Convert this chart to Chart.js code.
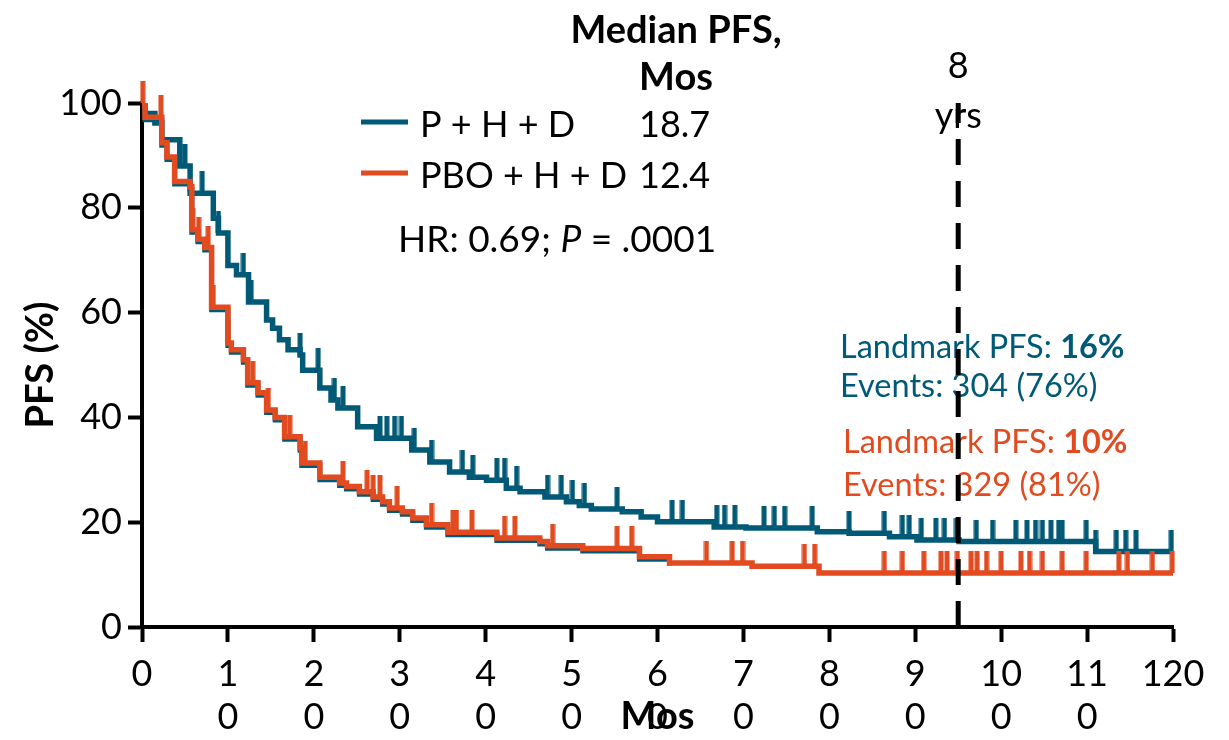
<!DOCTYPE html>
<html>
<head>
<meta charset="utf-8">
<script src="https://cdn.jsdelivr.net/npm/chart.js@4.4.1/dist/chart.umd.min.js"></script>
<style>
  html, body { margin: 0; padding: 0; background: #fff; }
  #wrap { width: 1229px; height: 740px; }
</style>
</head>
<body>
<div id="wrap"><canvas id="pfs" width="1229" height="740"></canvas></div>
<script>
// x axis labels as they appear (wrapped) in the source figure
const xTickLabels = ['0', ['1', '0'], ['2', '0'], ['3', '0'], ['4', '0'], ['5', '0'],
  ['6', '0'], ['7', '0'], ['8', '0'], ['9', '0'], ['10', '0'], ['11', '0'], '120'];

const armNames = ['P + H + D', 'PBO + H + D'];
const medianPfs = ['18.7', '12.4'];
const landmarkPfs = ['16%', '10%'];
const eventsText = ['Events: 304 (76%)', 'Events: 329 (81%)'];
const landmarkMonth = 95;

// P + H + D : step times (months) and PFS (%)
const phdTimes = [0, 0.35, 1.5, 2.3, 4.4, 5.6, 8.3, 8.9, 10, 11, 12.4, 14.5, 15.2, 16, 17, 18.4, 18.7,
  20.7, 22, 22.8, 25.1, 27.3, 31.4, 33.5, 35.8, 38.1, 40.1, 42.4, 44, 46.9, 49.4, 50.9, 52.3,
  55.9, 58.1, 60, 66.6, 70.3, 78.6, 82.3, 87, 90.2, 95.1, 111, 120];
const phdSurv = [100, 98, 96.2, 93, 88, 82.8, 78, 75.2, 69, 67.2, 62, 58.6, 57, 54.8, 52.9, 51.9, 49,
  45.6, 43.3, 41.8, 38.2, 36, 33.8, 31.5, 29.6, 28.6, 28, 26.5, 25.8, 24.8, 23.9, 23.2, 22.5,
  22, 21, 20.1, 19.1, 18.9, 18.2, 17.9, 17.2, 16.6, 16.3, 14.4, 14.4];
const phdCensor = [4.4, 5.0, 7.0, 8.9, 11.8, 12.7, 18.4, 20.5, 22.4, 23.4, 27.7, 28.5, 29.4, 30.2,
  31.7, 33.7, 37.3, 38.5, 41.3, 42.2, 43.6, 47.2, 48.8, 50.1, 51.5, 55.3, 61.7, 62.9, 66.9, 67.8,
  69, 72.4, 73.6, 74.8, 78, 82.3, 86.4, 88.5, 89.3, 90.7, 92.4, 93.4, 94.8, 97.1, 99, 101.7, 103,
  104, 104.8, 105.8, 106.7, 107.1, 109.9, 111, 113.4, 114.5, 115.7, 119.8];

// PBO + H + D
const pboTimes = [0, 0.35, 2.3, 2.9, 3.8, 5.6, 5.8, 6.5, 7.3, 8.1, 10, 10.4, 11.8, 12.3, 13.5, 14.5,
  15.5, 16.6, 18.4, 18.6, 20.7, 23, 23.8, 25.3, 26.9, 28, 28.8, 30.3, 31.5, 33.1, 35.6, 41.3,
  46.3, 47.2, 51.3, 57.9, 61.4, 71, 78.8, 120];
const pboSurv = [100, 97.3, 92.4, 89.7, 85, 84, 75.8, 74, 72.4, 61, 54.2, 52.9, 51, 46.6, 44.7, 41.4,
  40, 36.3, 34.2, 31.3, 28.6, 27.5, 26.8, 25.8, 24.8, 23.9, 22.7, 22, 20.8, 19.5, 18.1, 17,
  16.3, 15.5, 15, 13.4, 12.2, 11.6, 10.3, 10.3];
const pboCensor = [0.1, 2.2, 5.9, 6.6, 7.7, 8.3, 10, 12.9, 14.7, 17.2, 19, 23.4, 26.2, 26.9, 27.7,
  29.7, 33.7, 36.2, 36.6, 38.4, 42.2, 43.4, 47.8, 55.3, 57, 65.7, 68.7, 69.9, 77.1, 78.3, 86.4,
  88.5, 91, 93, 93.7, 94.9, 96.5, 97.2, 98.3, 100, 102.3, 103.3, 104.8, 107.1, 109.9, 113.7,
  114.7, 117.6, 119.9];

const blue = '#005a77';
const orange = '#e24b20';

function survAt(times, surv, t) {
  let v = surv[0];
  for (let i = 0; i < times.length; i++) {
    if (times[i] <= t) v = surv[i];
  }
  return v;
}

function stepPoints(times, surv) {
  return times.map((t, i) => ({ x: t, y: surv[i] }));
}

function censorPoints(times, surv, censor) {
  return censor.map(t => ({ x: t, y: survAt(times, surv, t) }));
}

// censor mark: a vertical stroke rising from the point
function tickMark(color) {
  const c = document.createElement('canvas');
  c.width = 6;
  c.height = 44;
  const g = c.getContext('2d');
  g.fillStyle = color;
  g.fillRect(0.5, 0, 5, 22);
  return c;
}

const shadowData = stepPoints(pboTimes, pboSurv).filter(p => p.x <= 62);

const textPlugin = {
  id: 'texts',
  beforeDatasetDraw(chart, args) {
    if (args.meta._dataset.shift) {
      chart.ctx.save();
      chart.ctx.translate(0, args.meta._dataset.shift);
    }
  },
  afterDatasetDraw(chart, args) {
    if (args.meta._dataset.shift) chart.ctx.restore();
  },
  beforeDatasetsDraw(chart) {
    const ctx = chart.ctx;
    const xs = chart.scales.x;
    ctx.save();
    ctx.textBaseline = 'middle';

    const runs = (parts, x, y) => {
      parts.forEach(p => {
        ctx.font = p.font;
        ctx.fillStyle = p.color;
        ctx.textAlign = 'left';
        ctx.fillText(p.text, x, y);
        x += ctx.measureText(p.text).width;
      });
    };

    // legend header
    ctx.fillStyle = '#000';
    ctx.textAlign = 'center';
    ctx.font = 'bold 38px Lato';
    ctx.fillText('Median PFS,', 676, 31);
    ctx.fillText('Mos', 676, 78);

    const colors = [blue, orange];
    [122, 173].forEach((y, i) => {
      ctx.strokeStyle = colors[i];
      ctx.lineWidth = 5;
      ctx.beginPath();
      ctx.moveTo(361, y);
      ctx.lineTo(408, y);
      ctx.stroke();
      ctx.fillStyle = '#000';
      ctx.textAlign = 'left';
      ctx.font = '36px Lato';
      ctx.fillText(armNames[i], 420, y + 3);
      ctx.fillText(medianPfs[i], 639, y + 3);
    });

    runs([
      { text: 'HR: 0.69; ', font: '37px Lato', color: '#000' },
      { text: 'P', font: 'italic 37px Lato', color: '#000' },
      { text: ' = .0001', font: '37px Lato', color: '#000' }
    ], 398, 240);

    // landmark label
    const lx = xs.getPixelForValue(landmarkMonth);
    ctx.fillStyle = '#000';
    ctx.textAlign = 'center';
    ctx.font = '36px Lato';
    ctx.fillText('8', lx, 66);
    ctx.fillText('yrs', lx, 116);

    runs([
      { text: 'Landmark PFS: ', font: '32.5px Lato', color: blue },
      { text: landmarkPfs[0], font: 'bold 32.5px Lato', color: blue }
    ], 840, 348);
    runs([{ text: eventsText[0], font: '32.5px Lato', color: blue }], 840, 387);
    runs([
      { text: 'Landmark PFS: ', font: '32.5px Lato', color: orange },
      { text: landmarkPfs[1], font: 'bold 32.5px Lato', color: orange }
    ], 843, 443);
    runs([{ text: eventsText[1], font: '32.5px Lato', color: orange }], 843, 486);
    ctx.restore();
  }
};

Chart.defaults.font.family = 'Lato';
Chart.defaults.color = '#000';

const ctx = document.getElementById('pfs').getContext('2d');
new Chart(ctx, {
  type: 'line',
  data: {
    datasets: [
      {
        label: 'landmark',
        data: [{ x: landmarkMonth, y: 0 }, { x: landmarkMonth, y: 100 }],
        borderColor: '#000',
        borderWidth: 5,
        borderDash: [26, 16],
        pointRadius: 0,
        order: 0
      },
      {
        label: armNames[1] + ' censored',
        data: censorPoints(pboTimes, pboSurv, pboCensor),
        showLine: false,
        pointStyle: tickMark(orange),
        pointRadius: 10,
        clip: false,
        order: 1
      },
      {
        label: armNames[1],
        data: stepPoints(pboTimes, pboSurv),
        borderColor: orange,
        borderWidth: 5.5,
        stepped: true,
        pointRadius: 0,
        order: 2
      },
      {
        label: armNames[0] + ' censored',
        data: censorPoints(phdTimes, phdSurv, phdCensor),
        showLine: false,
        pointStyle: tickMark(blue),
        pointRadius: 10,
        clip: false,
        order: 3
      },
      {
        label: armNames[0],
        data: stepPoints(phdTimes, phdSurv),
        borderColor: blue,
        borderWidth: 5.5,
        stepped: true,
        pointRadius: 0,
        order: 4
      },
      {
        label: 'shadow',
        data: shadowData,
        borderColor: blue,
        borderWidth: 5,
        stepped: true,
        pointRadius: 0,
        shift: 2.5,
        order: 5
      }
    ]
  },
  options: {
    responsive: false,
    animation: false,
    layout: { padding: { top: 103, right: 56, left: 0, bottom: 0 } },
    plugins: {
      legend: { display: false },
      tooltip: { enabled: false }
    },
    scales: {
      x: {
        type: 'linear',
        min: 0,
        max: 120,
        afterFit: s => { s.height = 113; },
        ticks: {
          stepSize: 10,
          autoSkip: false,
          maxRotation: 0,
          padding: 11,
          font: { size: 36, lineHeight: 1.2 },
          callback: v => xTickLabels[Math.round(v / 10)]
        },
        grid: {
          drawOnChartArea: false,
          tickLength: 15,
          tickWidth: 4,
          tickColor: '#000'
        },
        border: { color: '#000', width: 4 },
        title: {
          display: true,
          text: 'Mos',
          font: { size: 38, weight: 'bold' },
          padding: { top: 0, bottom: 0 }
        }
      },
      y: {
        min: 0,
        max: 100,
        afterFit: s => { s.width = 142; },
        ticks: {
          stepSize: 20,
          padding: 6,
          font: { size: 36 }
        },
        grid: {
          drawOnChartArea: false,
          tickLength: 14,
          tickWidth: 4,
          tickColor: '#000'
        },
        border: { color: '#000', width: 4 },
        title: {
          display: true,
          text: 'PFS (%)',
          font: { size: 38, weight: 'bold' },
          padding: { top: 18, bottom: 0 }
        }
      }
    }
  },
  plugins: [textPlugin]
});
</script>
</body>
</html>
